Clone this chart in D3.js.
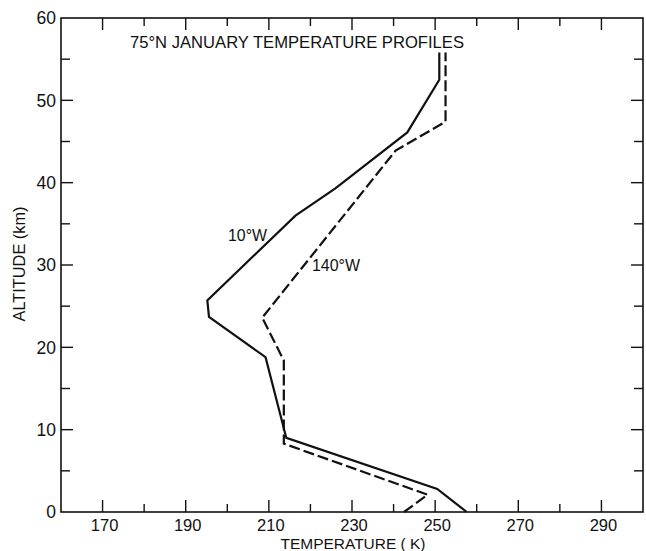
<!DOCTYPE html>
<html>
<head>
<meta charset="utf-8">
<script src="https://cdn.jsdelivr.net/npm/d3@7"></script>
<style>
  body { margin: 0; background: #fff; }
  text { font-family: "Liberation Sans", Arial, sans-serif; fill: #111; }
</style>
</head>
<body>
<div id="chart"></div>
<script>
// profile at 10°W (solid)
var west10Temp = [257.6, 250.5, 214.2, 209.2, 195.6, 195.2, 216.4, 226, 243.3, 251, 251];
var west10Alt  = [0, 2.8, 9.0, 18.8, 23.7, 25.7, 36.0, 39.3, 46.1, 52.5, 55.8];

// profile at 140°W (dashed)
var west140Temp = [242.5, 248.2, 213.6, 213.6, 208.4, 240.5, 252.5, 252.5];
var west140Alt  = [0, 2.1, 8.3, 18.4, 23.6, 43.9, 47.4, 55.8];

var xTickLabels = [170, 190, 210, 230, 250, 270, 290];
var yTickLabels = [0, 10, 20, 30, 40, 50, 60];

var width = 646, height = 551;
var margin = {top: 18, right: 3, bottom: 39, left: 61};
var w = width - margin.left - margin.right,
    h = height - margin.top - margin.bottom;

var svg = d3.select("#chart").append("svg")
    .attr("width", width)
    .attr("height", height);

var g = svg.append("g")
    .attr("transform", "translate(" + margin.left + "," + margin.top + ")");

var x = d3.scaleLinear().domain([160, 300]).range([0, w]);
var y = d3.scaleLinear().domain([0, 60]).range([h, 0]);

var xMinor = d3.range(170, 300, 10);
var yMinor = d3.range(5, 60, 5);

function isMajorX(d){ return xTickLabels.indexOf(d) !== -1; }
function isMajorY(d){ return yTickLabels.indexOf(d) !== -1; }

// frame
g.append("rect")
    .attr("width", w)
    .attr("height", h)
    .attr("fill", "none")
    .attr("stroke", "#111")
    .attr("stroke-width", 1.6);

// inward ticks, all four sides
g.selectAll(".xt-bot").data(xMinor).enter().append("line")
    .attr("x1", function(d){ return x(d); })
    .attr("x2", function(d){ return x(d); })
    .attr("y1", h)
    .attr("y2", function(d){ return h - (isMajorX(d) ? 12 : 8); })
    .attr("stroke", "#111").attr("stroke-width", 1.4);

g.selectAll(".xt-top").data(xMinor).enter().append("line")
    .attr("x1", function(d){ return x(d); })
    .attr("x2", function(d){ return x(d); })
    .attr("y1", 0)
    .attr("y2", function(d){ return isMajorX(d) ? 12 : 8; })
    .attr("stroke", "#111").attr("stroke-width", 1.4);

g.selectAll(".yt-left").data(yMinor).enter().append("line")
    .attr("y1", function(d){ return y(d); })
    .attr("y2", function(d){ return y(d); })
    .attr("x1", 0)
    .attr("x2", function(d){ return isMajorY(d) ? 12 : 9; })
    .attr("stroke", "#111").attr("stroke-width", 1.4);

g.selectAll(".yt-right").data(yMinor).enter().append("line")
    .attr("y1", function(d){ return y(d); })
    .attr("y2", function(d){ return y(d); })
    .attr("x1", w)
    .attr("x2", function(d){ return w - (isMajorY(d) ? 12 : 9); })
    .attr("stroke", "#111").attr("stroke-width", 1.4);

// tick labels
g.selectAll(".xl").data(xTickLabels).enter().append("text")
    .attr("x", function(d){ return x(d) + 2; })
    .attr("y", h + 19)
    .attr("text-anchor", "middle")
    .attr("font-size", 16.5)
    .text(function(d){ return d; });

g.selectAll(".yl").data(yTickLabels).enter().append("text")
    .attr("x", -5)
    .attr("y", function(d){ return y(d); })
    .attr("dy", "0.36em")
    .attr("text-anchor", "end")
    .attr("font-size", 17.5)
    .text(function(d){ return d; });

// axis titles
svg.append("text")
    .attr("x", 353)
    .attr("y", 549)
    .attr("text-anchor", "middle")
    .attr("font-size", 15)
    .attr("textLength", 145)
    .attr("lengthAdjust", "spacingAndGlyphs")
    .text("TEMPERATURE ( K)");

svg.append("text")
    .attr("transform", "translate(25,264) rotate(-90)")
    .attr("text-anchor", "middle")
    .attr("font-size", 16)
    .attr("textLength", 115)
    .attr("lengthAdjust", "spacingAndGlyphs")
    .text("ALTITUDE (km)");

svg.append("text")
    .attr("x", 130)
    .attr("y", 48)
    .attr("font-size", 17)
    .attr("textLength", 334)
    .attr("lengthAdjust", "spacingAndGlyphs")
    .text("75°N JANUARY TEMPERATURE PROFILES");

// profiles
var line = d3.line()
    .x(function(d){ return x(d[0]); })
    .y(function(d){ return y(d[1]); });

var solid = d3.zip(west10Temp, west10Alt);
var dashed = d3.zip(west140Temp, west140Alt);

g.append("path")
    .datum(solid)
    .attr("d", line)
    .attr("fill", "none")
    .attr("stroke", "#111")
    .attr("stroke-width", 2.2)
    .attr("stroke-linejoin", "miter");

g.append("path")
    .datum(dashed)
    .attr("d", line)
    .attr("fill", "none")
    .attr("stroke", "#111")
    .attr("stroke-width", 2.2)
    .attr("stroke-dasharray", "11,4");

// curve labels
svg.append("text")
    .attr("x", 228)
    .attr("y", 241)
    .attr("font-size", 17)
    .attr("textLength", 39)
    .attr("lengthAdjust", "spacingAndGlyphs")
    .text("10°W");

svg.append("text")
    .attr("x", 312)
    .attr("y", 271)
    .attr("font-size", 17)
    .attr("textLength", 48)
    .attr("lengthAdjust", "spacingAndGlyphs")
    .text("140°W");
</script>
</body>
</html>
